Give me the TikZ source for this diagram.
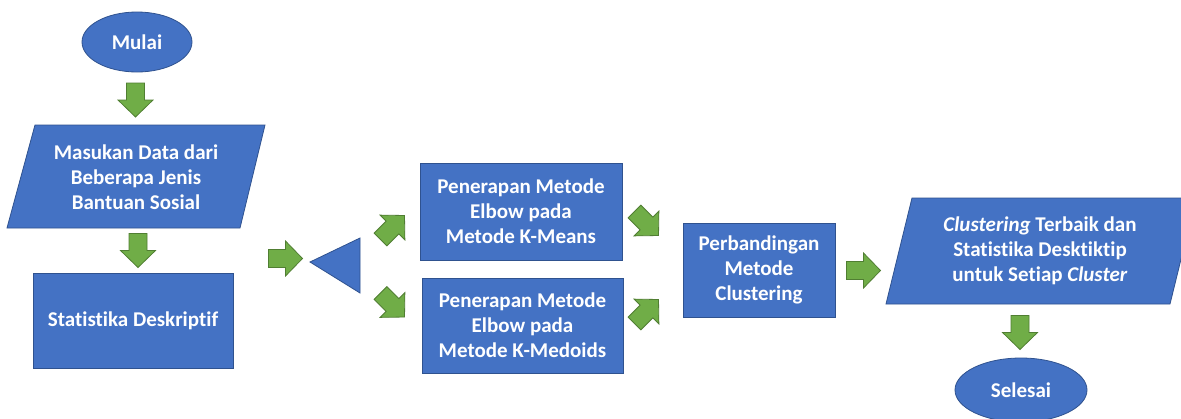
\documentclass[tikz,border=0pt]{standalone}
\usepackage{fontspec}
\setmainfont{Carlito}[Ligatures=NoCommon]
\usetikzlibrary{shapes.geometric}
\definecolor{boxblue}{HTML}{4472C4}
\definecolor{boxedge}{HTML}{2F528F}
\definecolor{arrgreen}{HTML}{70AD47}
\definecolor{arredge}{HTML}{507E32}
\begin{document}
\begin{tikzpicture}[x=1pt,y=-1pt,
  txt/.style={text=white, font=\bfseries\fontsize{21}{25}\selectfont, align=center, inner sep=0pt},
  box/.style={txt, draw=boxedge, fill=boxblue, line width=0.8pt},
  shapefill/.style={draw=boxedge, fill=boxblue, line width=0.8pt},
  barrow/.pic={\filldraw[fill=arrgreen, draw=arredge, line width=0.8pt]
     (-17,-9) -- (0,-9) -- (0,-17.5) -- (17,0) -- (0,17.5) -- (0,9) -- (-17,9) -- cycle;}
]
\useasboundingbox (0,0) rectangle (1181,418);
\fill[white] (0,0) rectangle (1181,418);

% start
\node[box, ellipse, minimum width=110, minimum height=60] (mulai) at (137,42) {Mulai};

% input parallelogram
\filldraw[shapefill] (7,228) -- (240,228) -- (265,125) -- (35,125) -- cycle;
\node[txt] (input) at (136,177) {Masukan Data dari\\Beberapa Jenis\\Bantuan Sosial};

% descriptive statistics
\node[box, minimum width=200, minimum height=95] (stat) at (133,320.5) {Statistika Deskriptif};

% decision triangle
\filldraw[shapefill] (310,262) -- (360,238) -- (360,293) -- cycle;
\coordinate (tri) at (343,264);

% methods
\node[box, minimum width=202, minimum height=97] (kmeans) at (521,211.5) {Penerapan Metode\\Elbow pada\\Metode K-Means};
\node[box, minimum width=201, minimum height=95] (kmedoids) at (522.5,325.5) {Penerapan Metode\\Elbow pada\\Metode K-Medoids};

% comparison
\node[box, minimum width=152, minimum height=94] (perb) at (759,270) {Perbandingan\\Metode\\Clustering};

% output parallelogram
\filldraw[shapefill] (886,304) -- (1170,304) -- (1196,198) -- (912,198) -- cycle;
\node[txt] (output) at (1040,251) {\textit{Clustering} Terbaik dan\\Statistika Desktiktip\\untuk Setiap \textit{Cluster}};

% end
\node[box, ellipse, minimum width=132, minimum height=64] (selesai) at (1021,390) {Selesai};

% block arrows
\pic (a1) at (135.5,100) [rotate=-90] {barrow};
\pic (a2) at (138,250.5) [rotate=-90] {barrow};
\pic (a3) at (285.5,258.5) {barrow};
\pic (a4) at (392.5,227.5) [rotate=45] {barrow};
\pic (a5) at (392.5,305) [rotate=-45] {barrow};
\pic (a6) at (646.5,223.5) [rotate=-45] {barrow};
\pic (a7) at (646.5,311.5) [rotate=45] {barrow};
\pic (a8) at (863.5,270.5) {barrow};
\pic (a9) at (1020,332.5) [rotate=-90] {barrow};
\end{tikzpicture}
\end{document}
